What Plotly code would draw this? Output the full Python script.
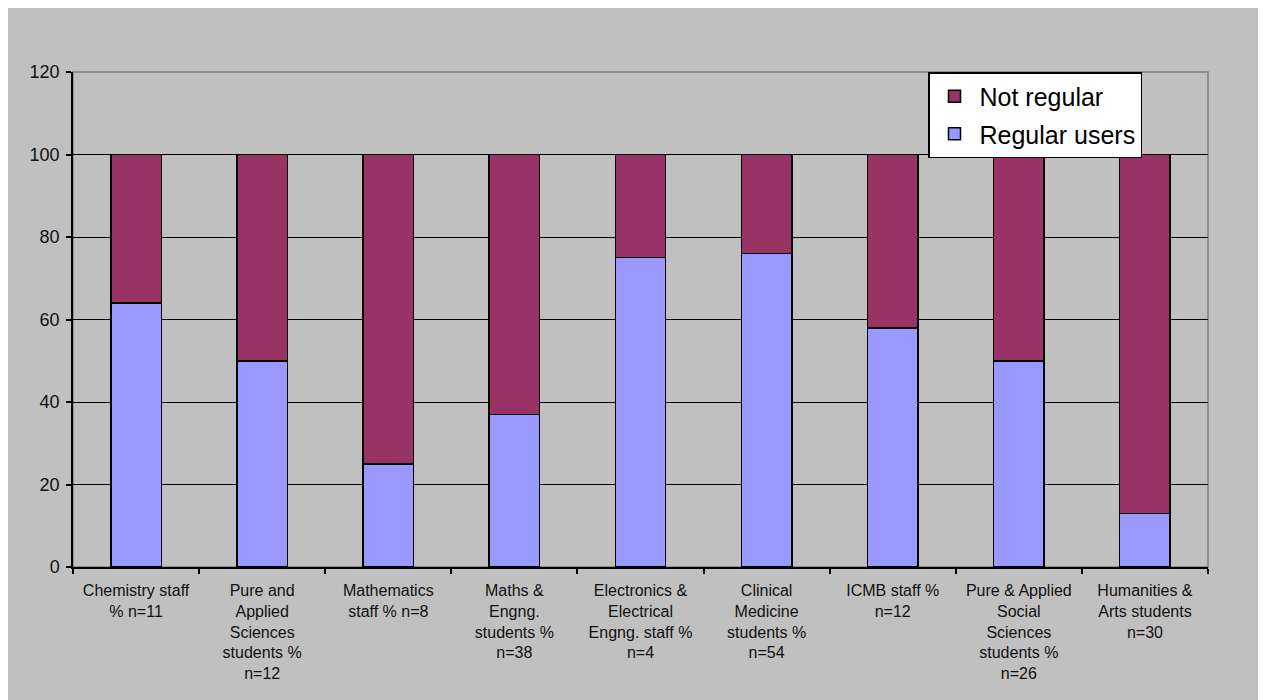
import plotly.graph_objects as go

categories = [
    "Chemistry staff<br>% n=11",
    "Pure and<br>Applied<br>Sciences<br>students %<br>n=12",
    "Mathematics<br>staff % n=8",
    "Maths &<br>Engng.<br>students %<br>n=38",
    "Electronics &<br>Electrical<br>Engng. staff %<br>n=4",
    "Clinical<br>Medicine<br>students %<br>n=54",
    "ICMB staff %<br>n=12",
    "Pure & Applied<br>Social<br>Sciences<br>students %<br>n=26",
    "Humanities &<br>Arts students<br>n=30",
]
regular_users = [64, 50, 25, 37, 75, 76, 58, 50, 13]
not_regular = [36, 50, 75, 63, 25, 24, 42, 50, 87]
y_ticks = [0, 20, 40, 60, 80, 100, 120]
grid_vals = [20, 40, 60, 80, 100]

FONT = "Liberation Sans, Arial, sans-serif"
GRAY = "#C0C0C0"

fig = go.Figure()
fig.add_trace(go.Bar(
    x=categories, y=regular_users, name="Regular users",
    marker=dict(color="#9999FF", line=dict(color="black", width=1.5)),
    legendgroup="a", legendrank=2,
))
fig.add_trace(go.Bar(
    x=categories, y=not_regular, name="Not regular",
    marker=dict(color="#993366", line=dict(color="black", width=1.5)),
    legendgroup="b", legendrank=1,
))

fig.update_layout(
    width=1266, height=700,
    barmode="stack", bargap=0.6,
    paper_bgcolor=GRAY, plot_bgcolor=GRAY,
    margin=dict(l=65, r=66, t=64, b=141),
    font=dict(family=FONT, color="#111111"),
    legend=dict(
        x=(855 / 1135), y=1.0, xanchor="left", yanchor="top",
        bgcolor="white", bordercolor="black", borderwidth=1.5,
        font=dict(size=25, family=FONT, color="black"),
        traceorder="grouped", tracegroupgap=2,
        itemwidth=40,
    ),
    shapes=[
        dict(type="rect", xref="x domain", yref="y domain",
             x0=0, x1=1, y0=0, y1=1,
             line=dict(color="#808080", width=1.5), layer="below"),
    ],
)

fig.update_xaxes(
    type="category", tickson="boundaries", ticks="outside",
    ticklen=5, tickwidth=1.5, tickcolor="black",
    showline=True, linecolor="black", linewidth=1.5,
    showgrid=False, tickfont=dict(size=16, family=FONT, color="#111111"),
    tickangle=0, ticklabelstandoff=8,
)
fig.update_yaxes(
    range=[0, 120], tickvals=y_ticks, showgrid=False,
    ticks="outside", ticklen=5, tickwidth=1.5, tickcolor="black",
    showline=True, linecolor="black", linewidth=1.5,
    tickfont=dict(size=18, family=FONT, color="#111111"),
    zeroline=False, ticklabelstandoff=3,
    minor=dict(tickvals=grid_vals, showgrid=True, gridcolor="black",
               gridwidth=1.2, ticks=""),
)

fig.write_html("out.html")
